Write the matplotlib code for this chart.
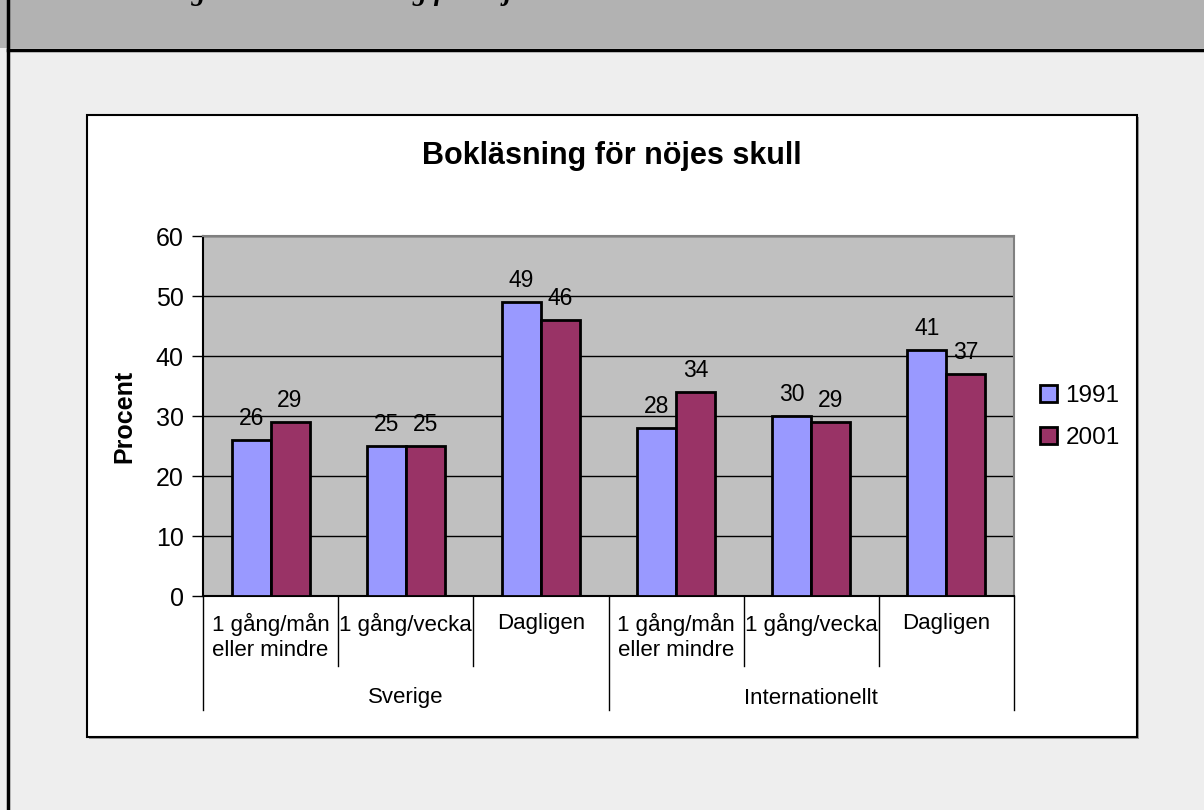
import matplotlib
matplotlib.use("Agg")
import matplotlib.pyplot as plt
from matplotlib.patches import Rectangle
from matplotlib.lines import Line2D

plt.rcParams["font.family"] = ["Liberation Sans", "DejaVu Sans"]

# Reading for pleasure, share of pupils (%)
categories = ["1 gång/mån\neller mindre", "1 gång/vecka", "Dagligen",
              "1 gång/mån\neller mindre", "1 gång/vecka", "Dagligen"]
groups = ["Sverige", "Internationellt"]
years = ["1991", "2001"]
values_1991 = [26, 25, 49, 28, 30, 41]
values_2001 = [29, 25, 46, 34, 29, 37]
colors = ["#9999ff", "#993366"]

W, H = 1204, 810
fig = plt.figure(figsize=(W / 100, H / 100), dpi=100, facecolor="#eeeeee")


def fx(px):
    return px / W


def fy(py):
    return 1 - py / H


# page frame: grey heading band and black rules
fig.patches.append(Rectangle((0, fy(48)), 1, 48 / H, transform=fig.transFigure,
                             facecolor="#b2b2b2", edgecolor="none", zorder=0))
fig.lines.append(Line2D([fx(8), 1], [fy(50), fy(50)], transform=fig.transFigure,
                        color="black", lw=2.5, zorder=1))
fig.lines.append(Line2D([fx(8), fx(8)], [0, 1], transform=fig.transFigure,
                        color="black", lw=2.5, zorder=1))
# heading of the page runs off the top edge
fig.text(fx(150), fy(0), "Diagram 4:  Bokläsning för nöjes skull",
         family="Liberation Serif", style="italic", weight="bold",
         fontsize=20, va="baseline", ha="left")

# chart area box with a thin shadow
fig.patches.append(Rectangle((fx(89), fy(739)), (1139 - 89) / W, (739 - 117) / H,
                             transform=fig.transFigure, facecolor="#999999",
                             edgecolor="none", zorder=1))
fig.patches.append(Rectangle((fx(87), fy(737)), (1137 - 87) / W, (737 - 115) / H,
                             transform=fig.transFigure, facecolor="white",
                             edgecolor="black", lw=1.5, zorder=2))

ax_l, ax_r, ax_t, ax_b = 203, 1014, 236, 596
ax = fig.add_axes([fx(ax_l), fy(ax_b), (ax_r - ax_l) / W, (ax_b - ax_t) / H], zorder=3)
ax.set_facecolor("#c0c0c0")

n = len(categories)
x = list(range(n))
bw = 0.288
bars1 = ax.bar([i - bw / 2 for i in x], values_1991, bw, color=colors[0],
               edgecolor="black", lw=2, label=years[0], zorder=3)
bars2 = ax.bar([i + bw / 2 for i in x], values_2001, bw, color=colors[1],
               edgecolor="black", lw=2, label=years[1], zorder=3)
for bars in (bars1, bars2):
    ax.bar_label(bars, padding=7, fontsize=16.5)

ax.set_xlim(-0.5, n - 0.5)
ax.set_ylim(0, 60)
ax.set_yticks(range(0, 61, 10))
ax.yaxis.grid(True, color="black", lw=1)
ax.set_axisbelow(True)
ax.tick_params(axis="y", labelsize=18, length=8, width=1, pad=6)
ax.tick_params(axis="x", bottom=False, labelbottom=False)
for side in ("left", "bottom"):
    ax.spines[side].set_color("black")
    ax.spines[side].set_linewidth(1.5)
for side in ("top", "right"):
    ax.spines[side].set_color("#808080")
    ax.spines[side].set_linewidth(1.5)
ax.set_ylabel("Procent", fontsize=18, fontweight="bold", labelpad=14)

# two-level category axis
span = ax_b - ax_t


def ay(py):
    return (ax_b - py) / span


tr = ax.get_xaxis_transform()
for i in range(n + 1):
    edge = i - 0.5
    low = 710 if i % 3 == 0 else 666
    ax.plot([edge, edge], [0, ay(low)], transform=tr, color="black", lw=1,
            clip_on=False)
for i, lab in enumerate(categories):
    ax.text(i, ay(613), lab, transform=tr, ha="center", va="top", fontsize=16,
            linespacing=1.25)
for g, lab in enumerate(groups):
    ax.text(g * 3 + 1, ay(698), lab, transform=tr, ha="center", va="center",
            fontsize=16)

fig.text(fx(612), fy(156), "Bokläsning för nöjes skull", fontsize=22,
         fontweight="bold", ha="center", va="center")

fig.legend(handles=[bars1, bars2], labels=years, loc="center left",
           bbox_to_anchor=(fx(1040), fy(417)), frameon=False, fontsize=17.5,
           handlelength=0.7, handleheight=0.7, handletextpad=0.35,
           labelspacing=0.85, borderaxespad=0, borderpad=0)

fig.savefig("out.png", dpi=100, facecolor=fig.get_facecolor())
